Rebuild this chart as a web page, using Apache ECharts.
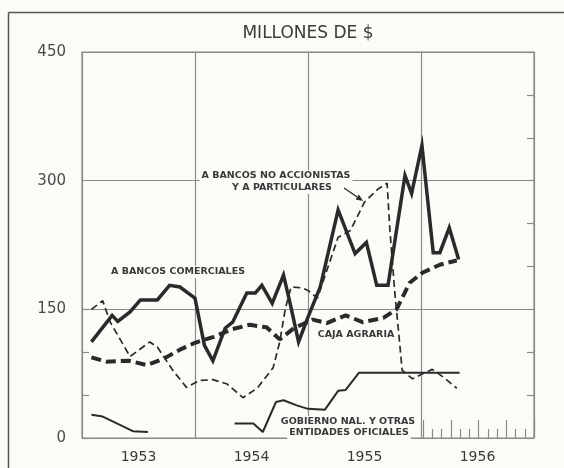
<!DOCTYPE html>
<html>
<head>
<meta charset="utf-8">
<script src="https://cdn.jsdelivr.net/npm/echarts@6/dist/echarts.min.js"></script>
<style>html,body{margin:0;padding:0;background:#fbfbf8;overflow:hidden;}#c{width:564px;height:468px;}</style>
</head>
<body>
<div id="c"></div>
<script>
// ---- data (months counted from January 1953) ----
const years = ['1953', '1954', '1955', '1956'];
const yTickLabels = ['0', '150', '300', '450'];

const comercialesMes = [1, 3.2, 3.8, 5.1, 6.2, 8, 9.3, 10.4, 12, 13, 13.9, 15.2, 16, 17.5, 18.4, 19.1, 20.2, 21.4, 22.1, 23, 24, 25.3, 27.2, 29, 30.2, 31.3, 32.5, 34.3, 35, 36.1, 37.3, 38, 39, 40];
const comercialesVal = [112, 143, 136, 147, 161, 161, 178, 176, 163, 108, 90, 128, 135, 169, 169, 178, 157, 190, 157, 112, 141, 176, 266, 215, 228, 178, 178, 306, 285, 341, 216, 216, 245, 208];

const cajaMes = [1, 2.6, 5, 6.9, 8.6, 10.4, 12, 14, 16, 17.8, 19.6, 21, 22.5, 24.5, 26, 28, 29.8, 32, 33.4, 34.8, 36.2, 38, 39.8];
const cajaVal = [94, 89, 90, 85, 92, 103, 111, 118, 127, 132, 129, 115, 128, 138, 134, 143, 135, 140, 150, 181, 193, 202, 207];

const noAccMes = [1, 2.2, 3, 5.1, 7.2, 8, 9.7, 11.1, 12.5, 13.9, 15.4, 17.1, 18.6, 20.3, 21, 21.6, 22.2, 23.4, 24, 25, 27.2, 28.5, 30, 31.4, 32.4, 32.7, 33.2, 33.6, 34, 35.1, 36, 37.2, 38.5, 39.8];
const noAccVal = [150, 160, 135, 95, 112, 106, 78, 59, 67, 68, 63, 47, 58, 82, 112, 151, 176, 175, 172, 163, 234, 242, 275, 290, 297, 242, 172, 126, 79, 69, 74, 80, 70, 58];

const gobiernoMes = [1, 2.2, 3.7, 5.4, 7, 11, 16.2, 18.2, 19.2, 20.6, 21.4, 22.8, 24, 25.8, 27.2, 28, 29.4, 40.1];
const gobiernoVal = [27, 25, 17, 8, 7, null, 17, 17, 7, 42, 44, 38, 34, 33, 55, 56, 76, 76];

function pairs(xs, ys) { return xs.map((x, i) => [x, ys[i] === null ? '-' : ys[i]]); }

const ink = '#2a2a2a';
const grid = '#8a8a8a';
const txt = '#3a3a3a';
const bg = '#fbfbf8';
const font = '"DejaVu Sans", sans-serif';

function label(text, x, y) {
  return {
    type: 'text', z: 1, silent: true,
    style: {
      text: text, x: x, y: y, font: 'bold 9.5px ' + font, fill: txt,
      align: 'center', verticalAlign: 'middle', textAlign: 'center', textVerticalAlign: 'middle',
      backgroundColor: bg, padding: [1, 2]
    }
  };
}

// arrow
const ax0 = 344, ay0 = 188, ax1 = 363, ay1 = 201;
const dl = Math.hypot(ax1 - ax0, ay1 - ay0), dx = (ax1 - ax0) / dl, dy = (ay1 - ay0) / dl;
const hb = [ax1 - 7 * dx, ay1 - 7 * dy];

const tickStyle = { color: grid, width: 1.2 };

const chart = echarts.init(document.getElementById('c'), null, { renderer: 'canvas' });
chart.setOption({
  animation: false,
  backgroundColor: bg,
  grid: [
    { left: 82, right: 30, top: 52, bottom: 30, show: true, borderColor: grid, borderWidth: 1.2 },
    { left: 423, right: 30, top: 52, bottom: 30 },
    { left: 82, right: 30, top: 309.3, bottom: 30 }
  ],
  xAxis: [
    { type: 'value', gridIndex: 0, min: 0, max: 48, interval: 12, position: 'top',
      axisLine: { show: false }, axisTick: { show: false }, axisLabel: { show: false },
      splitLine: { show: true, lineStyle: { color: grid, width: 1.2 } } },
    { type: 'category', gridIndex: 0, data: years, position: 'bottom', boundaryGap: true,
      axisLine: { show: false }, axisTick: { show: false }, splitLine: { show: false },
      axisLabel: { margin: 12, fontSize: 14, color: txt, fontFamily: font } },
    { type: 'value', gridIndex: 1, min: 36, max: 48, interval: 3, position: 'bottom',
      axisLine: { show: false }, axisLabel: { show: false }, splitLine: { show: false },
      axisTick: { show: true, inside: true, length: 18, lineStyle: tickStyle },
      minorTick: { show: true, splitNumber: 3, length: 9, lineStyle: tickStyle } },
    { type: 'value', gridIndex: 2, min: 0, max: 48, show: false }
  ],
  yAxis: [
    { type: 'value', gridIndex: 0, min: 0, max: 450, interval: 150,
      axisLine: { show: false }, axisTick: { show: false },
      axisLabel: { margin: 16, fontSize: 15, color: '#4a4a4a', fontFamily: font, formatter: (v, i) => yTickLabels[i] },
      splitLine: { show: true, lineStyle: { color: grid, width: 1.2 } } },
    { type: 'value', gridIndex: 0, position: 'right', min: 0, max: 450, interval: 150,
      axisLine: { show: false }, axisLabel: { show: false }, splitLine: { show: false },
      axisTick: { show: true, inside: true, length: 7, lineStyle: tickStyle },
      minorTick: { show: true, splitNumber: 3, length: 7, lineStyle: tickStyle } },
    { type: 'value', gridIndex: 1, min: 0, max: 450, show: false },
    { type: 'value', gridIndex: 2, position: 'left', min: 0, max: 150, interval: 150,
      axisLine: { show: false }, axisLabel: { show: false }, splitLine: { show: false },
      axisTick: { show: true, inside: true, length: 7, lineStyle: tickStyle },
      minorTick: { show: true, splitNumber: 3, length: 7, lineStyle: tickStyle } }
  ],
  series: [
    { name: 'A bancos no accionistas y a particulares', type: 'line', xAxisIndex: 0, yAxisIndex: 0,
      data: pairs(noAccMes, noAccVal), symbol: 'none', z: 3,
      lineStyle: { color: ink, width: 1.7, type: [7, 4] } },
    { name: 'Gobierno Nal. y otras entidades oficiales', type: 'line', xAxisIndex: 0, yAxisIndex: 0,
      data: pairs(gobiernoMes, gobiernoVal), symbol: 'none', connectNulls: false, z: 3,
      lineStyle: { color: ink, width: 2 } },
    { name: 'Caja Agraria', type: 'line', xAxisIndex: 0, yAxisIndex: 0,
      data: pairs(cajaMes, cajaVal), symbol: 'none', z: 4,
      lineStyle: { color: ink, width: 4, type: [10, 5] } },
    { name: 'A bancos comerciales', type: 'line', xAxisIndex: 0, yAxisIndex: 0,
      data: pairs(comercialesMes, comercialesVal), symbol: 'none', z: 5,
      lineStyle: { color: ink, width: 3.5, join: 'miter' } }
  ],
  graphic: [
    { type: 'line', z: 0, silent: true, shape: { x1: 8.5, y1: 12.5, x2: 564, y2: 12.5 },
      style: { stroke: '#555', lineWidth: 1.5 } },
    { type: 'line', z: 0, silent: true, shape: { x1: 8.5, y1: 12.5, x2: 8.5, y2: 468 },
      style: { stroke: '#555', lineWidth: 1.5 } },
    { type: 'text', z: 1, silent: true,
      style: { text: 'MILLONES DE $', x: 308, y: 34, font: '17px ' + font, fill: txt,
        align: 'center', verticalAlign: 'middle', textAlign: 'center', textVerticalAlign: 'middle' } },
    label('A BANCOS NO ACCIONISTAS', 276, 176),
    label('Y A PARTICULARES', 282, 188),
    label('A BANCOS COMERCIALES', 178, 272),
    label('CAJA AGRARIA', 356, 335),
    label('GOBIERNO NAL. Y OTRAS', 348, 422),
    label('ENTIDADES OFICIALES', 349, 433),
    { type: 'line', z: 1, silent: true, shape: { x1: ax0, y1: ay0, x2: hb[0], y2: hb[1] },
      style: { stroke: ink, lineWidth: 1.3 } },
    { type: 'polygon', z: 1, silent: true,
      shape: { points: [[ax1, ay1], [hb[0] - 3 * dy, hb[1] + 3 * dx], [hb[0] + 3 * dy, hb[1] - 3 * dx]] },
      style: { fill: ink } }
  ]
});
</script>
</body>
</html>
